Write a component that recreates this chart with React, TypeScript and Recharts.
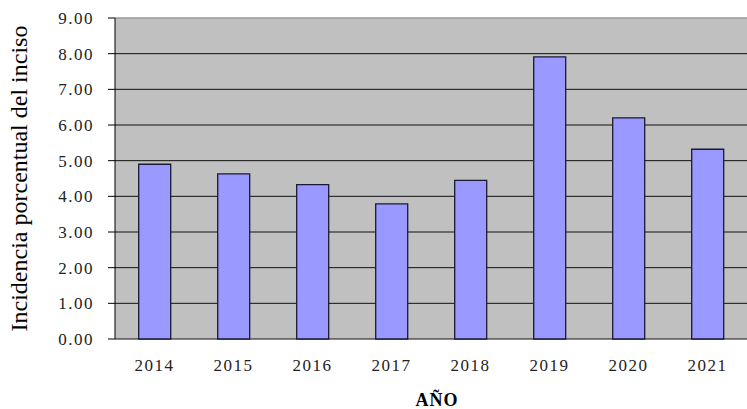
import { BarChart, Bar, XAxis, YAxis, CartesianGrid } from 'recharts';

const years = ['2014', '2015', '2016', '2017', '2018', '2019', '2020', '2021'];
const incidencia = [4.9, 4.63, 4.33, 3.79, 4.45, 7.91, 6.2, 5.32];
const yTicks = [0, 1, 2, 3, 4, 5, 6, 7, 8, 9];
const boundaryTicks = [0, 1, 2, 3, 4, 5, 6, 7, 8];

const data = years.map((year, i) => ({ year, value: incidencia[i] }));

const serif = '"Liberation Serif", "Times New Roman", serif';

// top edge of the plot is a light grey border, the rest of the grid is black
const gridLine = (props: any) => {
  const isTop = Math.abs(props.y1 - props.y) < 1;
  return (
    <line
      key={props.key ?? `h-${props.index}`}
      x1={props.x1}
      y1={props.y1}
      x2={props.x2}
      y2={props.y2}
      stroke={isTop ? '#999' : '#111'}
      strokeWidth={isTop ? 1.5 : 1}
    />
  );
};

export default function App() {
  return (
    <div style={{ position: 'absolute', left: 0, top: 0, background: '#fff' }}>
      <BarChart
        width={747}
        height={409}
        data={data}
        margin={{ top: 18, right: 0, left: 0, bottom: 0 }}
        barCategoryGap="30%"
      >
        <CartesianGrid
          yAxisId="y"
          xAxisId="cat"
          vertical={false}
          horizontal={gridLine}
          fill="#c0c0c0"
          fillOpacity={1}
        />
        <YAxis
          yAxisId="y"
          width={115}
          domain={[0, 9]}
          ticks={yTicks}
          tickFormatter={(v: number) => v.toFixed(2)}
          tick={{ fill: '#222', fontSize: 17, fontFamily: serif, letterSpacing: 1.5 }}
          tickSize={7}
          tickMargin={14}
          axisLine={{ stroke: '#000' }}
          tickLine={{ stroke: '#000' }}
          label={{
            value: 'Incidencia porcentual del inciso',
            angle: -90,
            position: 'insideLeft',
            offset: 18,
            style: { textAnchor: 'middle', fontSize: 24, fontFamily: serif, fill: '#000' },
          }}
        />
        <XAxis
          xAxisId="edge"
          type="number"
          domain={[0, 8]}
          ticks={boundaryTicks}
          height={0}
          tick={false}
          tickSize={6}
          axisLine={{ stroke: '#000' }}
          tickLine={{ stroke: '#000' }}
          allowDataOverflow
        />
        <XAxis
          xAxisId="cat"
          dataKey="year"
          height={70}
          axisLine={false}
          tickLine={false}
          tickSize={0}
          tickMargin={20}
          tick={{ fill: '#222', fontSize: 17, fontFamily: serif, letterSpacing: 1.5 }}
          label={{
            value: 'AÑO',
            position: 'insideBottom',
            offset: 3,
            dx: 6,
            style: { fontSize: 18, fontWeight: 'bold', fontFamily: serif, fill: '#000', letterSpacing: 1 },
          }}
        />
        <Bar
          xAxisId="cat"
          yAxisId="y"
          dataKey="value"
          fill="#9999ff"
          stroke="#1a1a33"
          strokeWidth={1.3}
          isAnimationActive={false}
        />
      </BarChart>
    </div>
  );
}
